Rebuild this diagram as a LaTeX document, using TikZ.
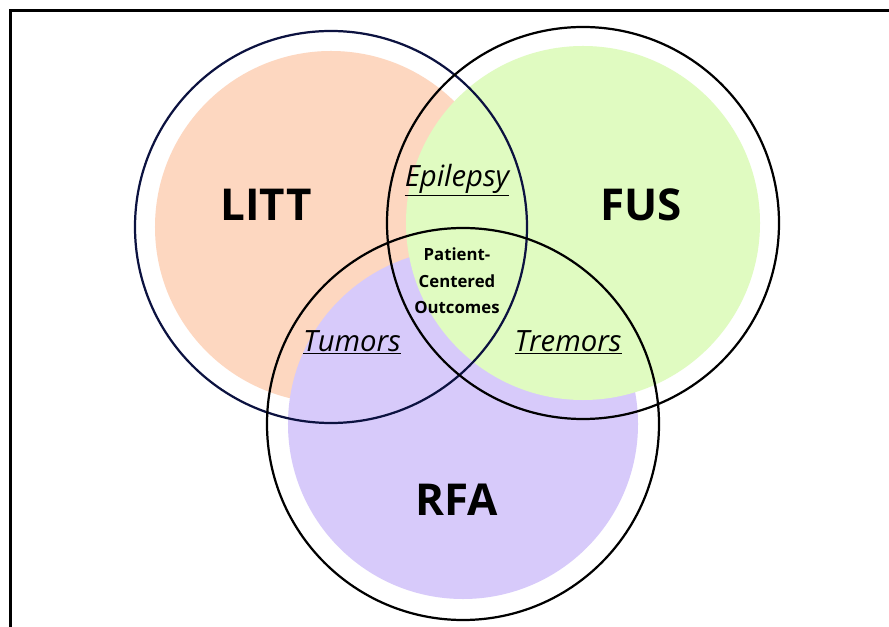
\documentclass[tikz,border=0pt]{standalone}
\usepackage{fontspec}
\setmainfont{Open Sans}
\usetikzlibrary{positioning}
\definecolor{peach}{RGB}{253,215,192}
\definecolor{lime}{RGB}{224,251,193}
\definecolor{lilac}{RGB}{215,202,250}
\definecolor{navy}{RGB}{12,18,64}
\tikzset{
    ring/.style={draw=black, line width=1.9pt},
    bigname/.style={font=\fontsize{37.5}{42}\selectfont\bfseries},
    overlap/.style={font=\fontsize{25}{29}\selectfont\itshape},
}
\begin{document}
\begin{tikzpicture}[x=0.03cm, y=-0.03cm]
            \useasboundingbox (0,0) rectangle (889,627);
            \fill[white] (0,0) rectangle (889,627);
            % frame
            \draw[line width=2.6pt] (10.5,640) -- (10.5,10.5) -- (900,10.5);

            % coloured discs
            \fill[peach] (331,227) circle[radius=5.28cm];
            \fill[lilac] (463,424) circle[radius=5.25cm];
            \fill[lime] (583,223) circle[radius=5.31cm];

            % outlines
            \draw[ring, draw=navy] (331,227) circle[radius=5.88cm];
            \draw[ring] (583,223) circle[radius=5.88cm];
            \draw[ring] (463,424) circle[radius=5.88cm];

            \node[bigname] (litt) at (266,205) {LITT};
            \node[bigname] (fus) at (641,205) {FUS};
            \node[bigname] (rfa) at (457,500) {RFA};

            \node[overlap] (epilepsy) at (457,180) {\underline{Epilepsy}};
            \node[overlap] (tumors) at (352,342) {\underline{Tumors}};
            \node[overlap] (tremors) at (568,342) {\underline{Tremors}};

            \node[font=\fontsize{14.3}{22.5}\selectfont\bfseries, align=center] (core) at (457,281)
                {Patient-\\Centered\\Outcomes};
        \end{tikzpicture}
\end{document}
